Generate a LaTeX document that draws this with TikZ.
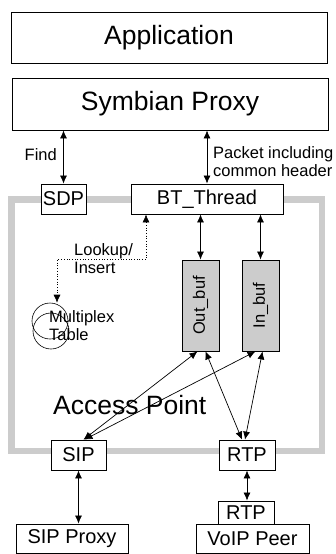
\documentclass[tikz,border=0pt]{standalone}
\usepackage{fontspec}
\setmainfont{Liberation Sans}
\usetikzlibrary{arrows.meta}

\begin{document}
\begin{tikzpicture}[x=1pt,y=-1pt, >={Latex[length=8pt,width=7pt]},
  box/.style={draw, fill=white, inner sep=0pt, line width=0.8pt, font=\fontsize{20}{22}\selectfont},
  bigbox/.style={box, font=\fontsize{26.5}{30}\selectfont},
  bufbox/.style={box, fill=black!20, font=\fontsize{16.5}{18}\selectfont},
  lbl/.style={font=\fontsize{16.5}{18}\selectfont, align=left, inner sep=0pt},
  link/.style={<->, line width=0.7pt},
]
\useasboundingbox (0,0) rectangle (336,554);
% access point frame
\draw[line width=6.5pt, black!20] (11.5,199.5) rectangle (322,451);
\node[font=\fontsize{26.5}{30}\selectfont, anchor=west, inner sep=0pt] (aplbl) at (53,405) {Access Point};

\node[bigbox, minimum width=316, minimum height=51] (app) at (169,37.5) {Application};
\node[bigbox, minimum width=316, minimum height=52] (proxy) at (170,104) {Symbian Proxy};
\node[box, minimum width=45, minimum height=30] (sdp) at (63.5,199) {SDP};
\node[box, minimum width=152, minimum height=30] (bt) at (207,199) {BT\_Thread};
\node[bufbox, minimum width=37, minimum height=91] (outbuf) at (200.5,305.5) {\rotatebox{90}{Out\_buf}};
\node[bufbox, minimum width=37, minimum height=91] (inbuf) at (260.5,305.5) {\rotatebox{90}{In\_buf}};
\node[draw, circle, minimum size=36, inner sep=0pt, line width=0.6pt] (mtab2) at (51,331) {};
\node[draw, circle, minimum size=36, inner sep=0pt, line width=0.6pt] (mtab) at (50,321) {};
\node[lbl, anchor=west] (mtablbl) at (49,326) {Multiplex\\Table};
\node[box, minimum width=55, minimum height=30] (sip) at (78.5,455) {SIP};
\node[box, minimum width=56, minimum height=30] (rtp) at (247,455) {RTP};
\node[box, minimum width=112, minimum height=29] (sipproxy) at (72,538.5) {SIP Proxy};
\node[box, minimum width=56, minimum height=23] (rtppeer) at (246,512.5) {RTP};
\node[box, minimum width=113, minimum height=29] (voip) at (252.5,538.5) {VoIP Peer};

% labels
\node[lbl, anchor=east] (findlbl) at (57,155) {Find};
\node[lbl, anchor=west] (pktlbl) at (213,162) {Packet including\\common header};
\node[lbl, anchor=west] (lklbl) at (74,258.5) {Lookup/\\Insert};

% links
\draw[link] (proxy.south -| sdp.north) -- (sdp.north);
\draw[link] (proxy.south -| bt.north) -- (bt.north);
\draw[link] (bt.south -| outbuf.north) -- (outbuf.north);
\draw[link] (bt.south -| inbuf.north) -- (inbuf.north);
\draw[link, dotted, line width=0.6pt] ([xshift=-61]bt.south) -- ++(0,45) -| ([xshift=7]mtab.north);
\draw[link] ([xshift=-3]outbuf.south) -- ([xshift=5]sip.north);
\draw[link] ([xshift=-5]inbuf.south) -- ([xshift=6]sip.north);
\draw[link] ([xshift=5]outbuf.south) -- ([xshift=-5]rtp.north);
\draw[link] ([xshift=2]inbuf.south) -- ([xshift=-2]rtp.north);
\draw[link] (sip.south) -- (sip.south |- sipproxy.north);
\draw[link] (rtp.south) -- (rtp.south |- rtppeer.north);
\end{tikzpicture}
\end{document}
